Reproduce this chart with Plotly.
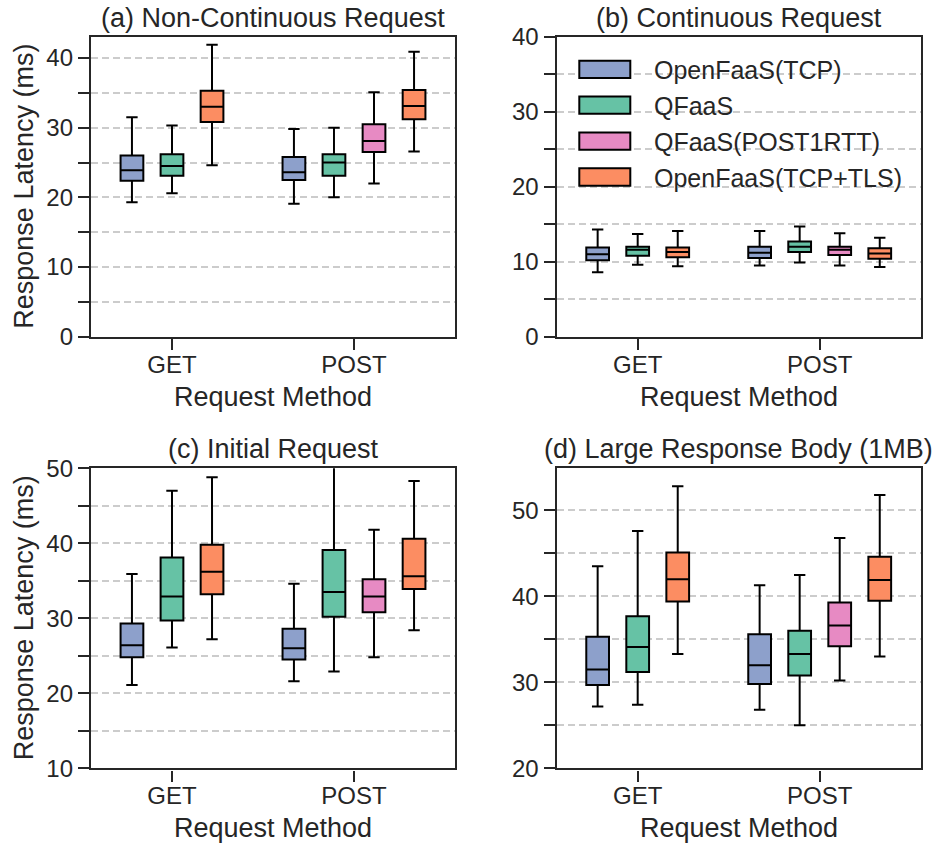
import plotly.graph_objects as go

# ---------------- data ----------------
METHODS = ["GET", "POST"]
SERIES = ["OpenFaaS(TCP)", "QFaaS", "QFaaS(POST1RTT)", "OpenFaaS(TCP+TLS)"]
COLORS = ["#8da0cb", "#66c2a5", "#e78ac3", "#fc8d62"]

# order of the boxes inside each panel (method index, series index)
BOX_METHOD = [0, 0, 0, 1, 1, 1, 1]
BOX_SERIES = [0, 1, 3, 0, 1, 2, 3]

# (a) Non-Continuous Request
A_LOW = [19.3, 20.6, 24.6, 19.1, 20.0, 22.0, 26.6]
A_Q1 = [22.4, 23.1, 30.8, 22.5, 23.1, 26.5, 31.2]
A_MED = [23.9, 24.5, 33.0, 23.6, 25.0, 28.1, 33.1]
A_Q3 = [26.0, 26.2, 35.3, 25.8, 26.2, 30.5, 35.4]
A_HIGH = [31.5, 30.3, 41.9, 29.8, 30.0, 35.1, 40.9]

# (b) Continuous Request
B_LOW = [8.6, 9.6, 9.4, 9.5, 9.9, 9.5, 9.3]
B_Q1 = [10.2, 10.8, 10.6, 10.5, 11.3, 10.9, 10.4]
B_MED = [11.0, 11.6, 11.3, 11.2, 12.0, 11.6, 11.1]
B_Q3 = [11.9, 12.0, 11.9, 12.0, 12.7, 12.0, 11.8]
B_HIGH = [14.3, 13.7, 14.1, 14.1, 14.7, 13.8, 13.2]

# (c) Initial Request
C_LOW = [21.1, 26.1, 27.2, 21.6, 22.9, 24.8, 28.4]
C_Q1 = [24.8, 29.7, 33.2, 24.5, 30.2, 30.8, 33.9]
C_MED = [26.4, 32.9, 36.2, 26.0, 33.5, 32.9, 35.6]
C_Q3 = [29.3, 38.1, 39.8, 28.6, 39.1, 35.2, 40.6]
C_HIGH = [35.9, 47.0, 48.8, 34.6, 53.0, 41.8, 48.3]

# (d) Large Response Body (1MB)
D_LOW = [27.2, 27.4, 33.3, 26.8, 25.0, 30.2, 33.0]
D_Q1 = [29.7, 31.2, 39.4, 29.8, 30.8, 34.2, 39.5]
D_MED = [31.5, 34.1, 42.0, 32.0, 33.3, 36.6, 41.9]
D_Q3 = [35.3, 37.7, 45.1, 35.6, 36.0, 39.3, 44.6]
D_HIGH = [43.5, 47.6, 52.8, 41.3, 42.5, 46.8, 51.8]

PANEL_TITLES = ["(a) Non-Continuous Request", "(b) Continuous Request",
                "(c) Initial Request", "(d) Large Response Body (1MB)"]
Y_TICKS = [[0, 5, 10, 15, 20, 25, 30, 35, 40],
           [0, 5, 10, 15, 20, 25, 30, 35, 40],
           [10, 15, 20, 25, 30, 35, 40, 45, 50],
           [20, 25, 30, 35, 40, 45, 50]]
Y_LABEL = "Response Latency (ms)"
X_LABEL = "Request Method"

PANELS = [
    (A_LOW, A_Q1, A_MED, A_Q3, A_HIGH),
    (B_LOW, B_Q1, B_MED, B_Q3, B_HIGH),
    (C_LOW, C_Q1, C_MED, C_Q3, C_HIGH),
    (D_LOW, D_Q1, D_MED, D_Q3, D_HIGH),
]

# ---------------- layout constants ----------------
W, H = 940, 843
FONT = "Liberation Sans, Arial, Helvetica, sans-serif"
TXT = "#262626"
Y_RANGES = [[0, 43.06], [0, 40], [10, 50], [20, 54.9]]
X_RANGE = [-0.445, 1.555]
STEP = 0.22
BOX_W = 0.125

# plot frames in pixels: (left, right, top, bottom)
FRAMES = [(91, 455, 36.7, 336.7), (556.7, 920.7, 36.7, 336.7),
          (91, 455, 468.3, 768.3), (556.7, 920.7, 468.3, 768.3)]


def px(x):
    return x / W


def py(y):
    return 1 - y / H


fig = go.Figure()
layout = {}
annotations = []
shapes = []

for p, (low, q1, med, q3, high) in enumerate(PANELS):
    sfx = "" if p == 0 else str(p + 1)
    xa, ya = "x" + sfx, "y" + sfx
    # positions of boxes, dodged around each method
    counts = [BOX_METHOD.count(m) for m in range(len(METHODS))]
    seen = [0] * len(METHODS)
    pos = []
    for m in BOX_METHOD:
        k = seen[m]
        seen[m] += 1
        pos.append(m + (k - (counts[m] - 1) / 2) * STEP)
    for s, name in enumerate(SERIES):
        idx = [i for i, ss in enumerate(BOX_SERIES) if ss == s]
        if not idx:
            continue
        fig.add_trace(go.Box(
            x=[pos[i] for i in idx],
            q1=[q1[i] for i in idx], median=[med[i] for i in idx],
            q3=[q3[i] for i in idx], lowerfence=[low[i] for i in idx],
            upperfence=[high[i] for i in idx],
            name=name, width=BOX_W, whiskerwidth=0.5, boxpoints=False,
            fillcolor=COLORS[s], line=dict(color="black", width=2),
            showlegend=False, hoverinfo="skip",
            xaxis=xa, yaxis=ya,
        ))
    L, R, T, B = FRAMES[p]
    layout["xaxis" + sfx] = dict(
        domain=[px(L), px(R)], range=X_RANGE, anchor=ya,
        tickmode="array", tickvals=list(range(len(METHODS))), ticktext=METHODS,
        ticks="outside", ticklen=11, tickwidth=2, tickcolor=TXT,
        ticklabelstandoff=-6,
        showline=True, mirror=True, linecolor=TXT, linewidth=2.4,
        showgrid=False, zeroline=False, automargin=False,
        tickfont=dict(size=24, color=TXT, family=FONT),
    )
    layout["yaxis" + sfx] = dict(
        domain=[py(B), py(T)], range=Y_RANGES[p], anchor=xa,
        tickmode="array", tickvals=Y_TICKS[p],
        ticktext=[str(v) if v % 10 == 0 else "" for v in Y_TICKS[p]],
        ticks="outside", ticklen=11, tickwidth=2, tickcolor=TXT,
        showline=True, mirror=True, linecolor=TXT, linewidth=2.4,
        showgrid=True, gridcolor="#cccccc", gridwidth=1.5, griddash="7px,4px",
        zeroline=False, automargin=False,
        tickfont=dict(size=24, color=TXT, family=FONT),
    )
    cx = (L + R) / 2
    annotations.append(dict(text=PANEL_TITLES[p], x=px(cx), y=py(T - 19),
                            xref="paper", yref="paper", showarrow=False,
                            xanchor="center", yanchor="middle",
                            font=dict(size=27, color=TXT, family=FONT)))
    annotations.append(dict(text=X_LABEL, x=px(cx), y=py(B + 60),
                            xref="paper", yref="paper", showarrow=False,
                            xanchor="center", yanchor="middle",
                            font=dict(size=27, color=TXT, family=FONT)))
    if p % 2 == 0:
        annotations.append(dict(text=Y_LABEL, x=px(24), y=py((T + B) / 2),
                                xref="paper", yref="paper", showarrow=False,
                                xanchor="center", yanchor="middle", textangle=-90,
                                font=dict(size=27, color=TXT, family=FONT)))

# manual legend inside panel (b)
LEG_X0, LEG_X1, LEG_TX = 579.3, 630.3, 651.7
LEG_Y0, LEG_DY, LEG_H = 69.3, 35.9, 17.3
for s, name in enumerate(SERIES):
    yc = LEG_Y0 + s * LEG_DY
    shapes.append(dict(type="rect", xref="paper", yref="paper",
                       x0=px(LEG_X0), x1=px(LEG_X1),
                       y0=py(yc + LEG_H / 2), y1=py(yc - LEG_H / 2),
                       fillcolor=COLORS[s], line=dict(color="black", width=2)))
    annotations.append(dict(text=name, x=px(LEG_TX), y=py(yc + 1),
                            xref="paper", yref="paper", showarrow=False,
                            xanchor="left", yanchor="middle",
                            font=dict(size=25, color=TXT, family=FONT)))

fig.update_layout(
    width=W, height=H,
    margin=dict(l=0, r=0, t=0, b=0, autoexpand=False),
    paper_bgcolor="white", plot_bgcolor="white",
    boxmode="overlay", showlegend=False,
    annotations=annotations, shapes=shapes,
    font=dict(family=FONT, color=TXT),
    **layout,
)

fig.write_html("out.html")
